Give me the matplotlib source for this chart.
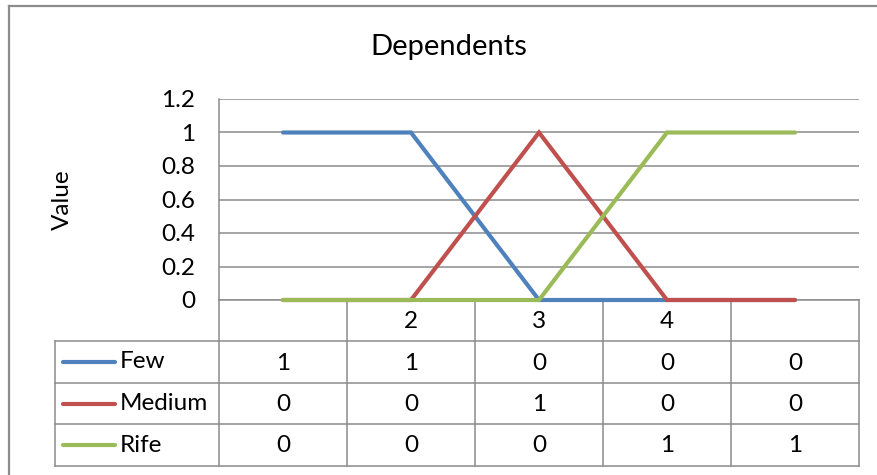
import matplotlib
matplotlib.use("Agg")
import matplotlib.pyplot as plt
from matplotlib.lines import Line2D
from matplotlib.transforms import blended_transform_factory

# --- data -------------------------------------------------------------
categories = ["", "2", "3", "4", ""]
series_names = ["Few", "Medium", "Rife"]
few = [1, 1, 0, 0, 0]
medium = [0, 0, 1, 0, 0]
rife = [0, 0, 0, 1, 1]
y_ticks = [0, 0.2, 0.4, 0.6, 0.8, 1, 1.2]
y_tick_labels = ["0", "0.2", "0.4", "0.6", "0.8", "1", "1.2"]
title = "Dependents"
y_label = "Value"

colors = ["#4F81BD", "#C0504D", "#9BBB59"]
grid_color = "#8C8C8C"
FONT = "Lato"
FS = 17.5

W, H = 877, 475
fig = plt.figure(figsize=(W / 100, H / 100), dpi=100)
fig.patch.set_facecolor("white")

# pixel-space overlay for the frame and data table
lay = fig.add_axes([0, 0, 1, 1], zorder=0)
lay.set_xlim(0, W)
lay.set_ylim(H, 0)
lay.axis("off")

# plot area in pixels
px_left, px_right, px_top, px_bottom = 219, 859, 99, 300
ax = fig.add_axes([px_left / W, 1 - px_bottom / H,
                   (px_right - px_left) / W, (px_bottom - px_top) / H], zorder=2)
ax.patch.set_alpha(0)

x = list(range(len(categories)))
for vals, c in zip([few, medium, rife], colors):
    ax.plot(x, vals, color=c, lw=3.0, solid_capstyle="round",
            solid_joinstyle="miter", zorder=3, clip_on=False)

ax.set_xlim(-0.5, len(categories) - 0.5)
ax.set_ylim(0, 1.2)
ax.set_yticks(y_ticks)
ax.set_yticklabels(y_tick_labels, fontfamily=FONT, fontsize=FS)
ax.tick_params(axis="y", length=0, pad=17)
ax.set_xticks([])
ax.yaxis.grid(True, color=grid_color, lw=1.1)
ax.set_axisbelow(True)
for s in ["top", "right", "bottom"]:
    ax.spines[s].set_visible(False)
ax.spines["left"].set_color(grid_color)
ax.spines["left"].set_linewidth(1.1)

# title and axis label
lay.text(449, 47, title, ha="center", va="center", fontfamily=FONT, fontsize=21)
lay.text(62, 200, y_label, ha="center", va="center", rotation=90,
         fontfamily=FONT, fontsize=FS)

# outer chart frame
lay.add_line(Line2D([9, 9], [6, H + 5], color="#8C8C8C", lw=1.6))
lay.add_line(Line2D([9, W + 5], [6, 6], color="#8C8C8C", lw=1.6))

# data table below the axis
bt = blended_transform_factory(ax.transData, lay.transData)
row_y = [300, 341, 383, 424, 466]
tbl_left = 55
col_edges = [i - 0.5 for i in range(len(categories) + 1)]

def hline(y, x0, x1):
    lay.add_line(Line2D([x0, x1], [y, y], color=grid_color, lw=1.1, zorder=1))

def vline_data(xd, y0, y1):
    lay.add_line(Line2D([xd, xd], [y0, y1], color=grid_color, lw=1.1,
                        transform=bt, zorder=1))

hline(row_y[0], px_left, px_right)
for y in row_y[1:]:
    hline(y, tbl_left, px_right)
for xe in col_edges:
    vline_data(xe, row_y[0], row_y[-1])
lay.add_line(Line2D([tbl_left, tbl_left], [row_y[1], row_y[-1]],
                    color=grid_color, lw=1.1, zorder=1))

# category labels row
for i, lab in enumerate(categories):
    lay.text(i, (row_y[0] + row_y[1]) / 2 + 1, lab, transform=bt,
             ha="center", va="center", fontfamily=FONT, fontsize=FS)

# series rows with legend keys
for r, (name, vals, c) in enumerate(zip(series_names, [few, medium, rife], colors)):
    yc = (row_y[r + 1] + row_y[r + 2]) / 2
    lay.add_line(Line2D([63, 115], [yc, yc], color=c, lw=3.0,
                        solid_capstyle="round", zorder=2))
    lay.text(120, yc, name, ha="left", va="center", fontfamily=FONT, fontsize=FS)
    for i, v in enumerate(vals):
        lay.text(i, yc + 1, f"{v:g}", transform=bt, ha="center", va="center",
                 fontfamily=FONT, fontsize=FS)

fig.savefig("out.png", dpi=100, facecolor="white")
